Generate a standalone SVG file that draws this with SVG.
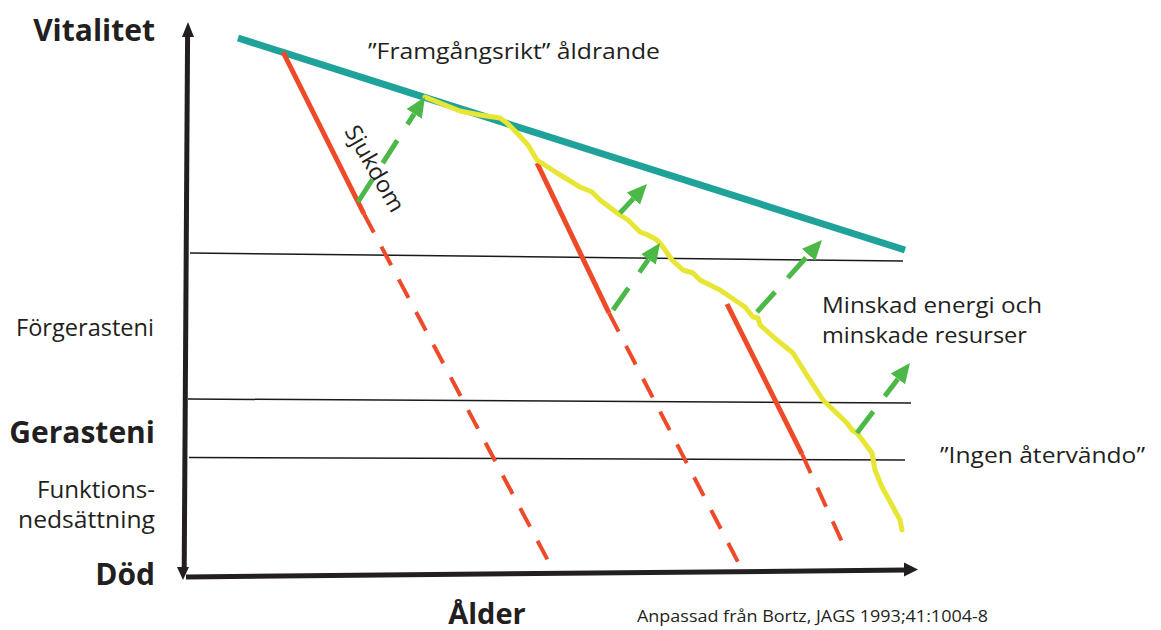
<svg xmlns="http://www.w3.org/2000/svg" width="1161" height="630" viewBox="0 0 1161 630">
<style>
  text { font-family: "Open Sans", "Noto Sans", "Liberation Sans", sans-serif; fill: #231f20; }
  .b { font-weight: 700; font-size: 30px; }
  .n { font-size: 22px; }
  .l { font-size: 23px; }
  .axis { stroke: #231f20; stroke-width: 5; fill: none; }
  .grid { stroke: #1a1a1a; stroke-width: 1.5; fill: none; }
  .red { stroke: #ee4a2a; stroke-width: 5; fill: none; }
  .redd { stroke: #ee4a2a; stroke-width: 4; fill: none; stroke-dasharray: 21 16; }
  .grn { stroke: #4cb848; stroke-width: 5; fill: none; stroke-dasharray: 27 19; }
  .grns { stroke: #4cb848; stroke-width: 5; fill: none; }
</style>
<defs>
  <marker id="gh" markerUnits="userSpaceOnUse" viewBox="0 -10 22 20" markerWidth="22" markerHeight="20" refX="0" refY="0" orient="auto">
    <path d="M0,-9 L20,0 L0,9 z" fill="#4cb848"/>
  </marker>
</defs>
<rect width="1161" height="630" fill="#ffffff"/>

<g id="axes">
  <line class="axis" x1="187.6" y1="34" x2="184.2" y2="569"/>
  <polygon points="188,22 182,37 194,37" fill="#231f20"/>
  <polygon points="183,580 177,567 189,567" fill="#231f20"/>
  <line class="axis" x1="186" y1="577" x2="906" y2="570"/>
  <polygon points="918,569.5 904,562.5 904,576.5" fill="#231f20"/>
</g>

<g id="levels">
  <line class="grid" x1="190" y1="253" x2="903" y2="261"/>
  <line class="grid" x1="188" y1="399" x2="911" y2="403"/>
  <line class="grid" x1="189" y1="457.5" x2="905" y2="460"/>
</g>

<g id="labels-y">
  <text class="b" x="155" y="41" text-anchor="end">Vitalitet</text>
  <text class="l" x="16" y="336" textLength="138" lengthAdjust="spacingAndGlyphs">Förgerasteni</text>
  <text class="b" x="155" y="443" text-anchor="end">Gerasteni</text>
  <text class="l" x="37" y="498" textLength="118" lengthAdjust="spacingAndGlyphs">Funktions-</text>
  <text class="l" x="18" y="528" textLength="137" lengthAdjust="spacingAndGlyphs">nedsättning</text>
  <text class="b" x="155" y="585" text-anchor="end">Död</text>
</g>

<g id="optimal">
  <line x1="238" y1="38" x2="905" y2="250" stroke="#1fa29a" stroke-width="7"/>
  <text class="n" x="368" y="59" textLength="292" lengthAdjust="spacingAndGlyphs">”Framgångsrikt” åldrande</text>
</g>

<g id="disease">
  <line class="red" x1="283" y1="52" x2="364" y2="214"/>
  <line class="redd" x1="364" y1="214" x2="553" y2="570"/>
  <line class="red" x1="537" y1="163" x2="609" y2="313"/>
  <line class="redd" x1="609" y1="313" x2="738" y2="562"/>
  <line class="red" x1="727" y1="304" x2="802" y2="454"/>
  <line class="redd" x1="802" y1="454" x2="848" y2="555"/>
  <text font-size="23" x="0" y="0" transform="translate(344,131) rotate(60)" textLength="96" lengthAdjust="spacingAndGlyphs">Sjukdom</text>
</g>

<g id="course">
  <polyline fill="none" stroke="#e8e634" stroke-width="5" stroke-linejoin="round" stroke-linecap="round" points="425,97 460,111 480,115 500,118 507,123 517,133 528,145 537,160 557,173 580,187 592,192 600,200 620,215 628,220 640,232 648,235 657,240 663,247 672,260 683,270 693,273 700,280 720,290 745,307 753,317 758,318 760,325 777,340 793,353 808,377 823,400 847,423 852,430 857,433 872,453 875,470 882,487 893,507 900,520 902,530"/>
</g>

<g id="connectors">
  <line class="grn" x1="358" y1="202" x2="414.2" y2="113.9" marker-end="url(#gh)"/>
  <line class="grns" x1="620" y1="213" x2="633.4" y2="198.6" marker-end="url(#gh)"/>
  <line class="grn" x1="613" y1="310" x2="648.5" y2="259.4" marker-end="url(#gh)"/>
  <line class="grn" x1="757" y1="312" x2="808.6" y2="254.8" marker-end="url(#gh)"/>
  <line class="grn" x1="857" y1="433" x2="897.9" y2="378.9" marker-end="url(#gh)"/>
</g>

<g id="annotations">
  <text class="n" x="822" y="313" textLength="220" lengthAdjust="spacingAndGlyphs">Minskad energi och</text>
  <text class="n" x="822" y="343" textLength="205" lengthAdjust="spacingAndGlyphs">minskade resurser</text>
  <text class="n" x="940" y="463" textLength="205" lengthAdjust="spacingAndGlyphs">”Ingen återvändo”</text>
</g>

<g id="labels-x">
  <text class="b" x="487" y="624" font-size="29" text-anchor="middle" style="font-size:29px">Ålder</text>
  <text x="637" y="622" font-size="17" textLength="351" lengthAdjust="spacingAndGlyphs">Anpassad från Bortz, JAGS 1993;41:1004-8</text>
</g>
</svg>
